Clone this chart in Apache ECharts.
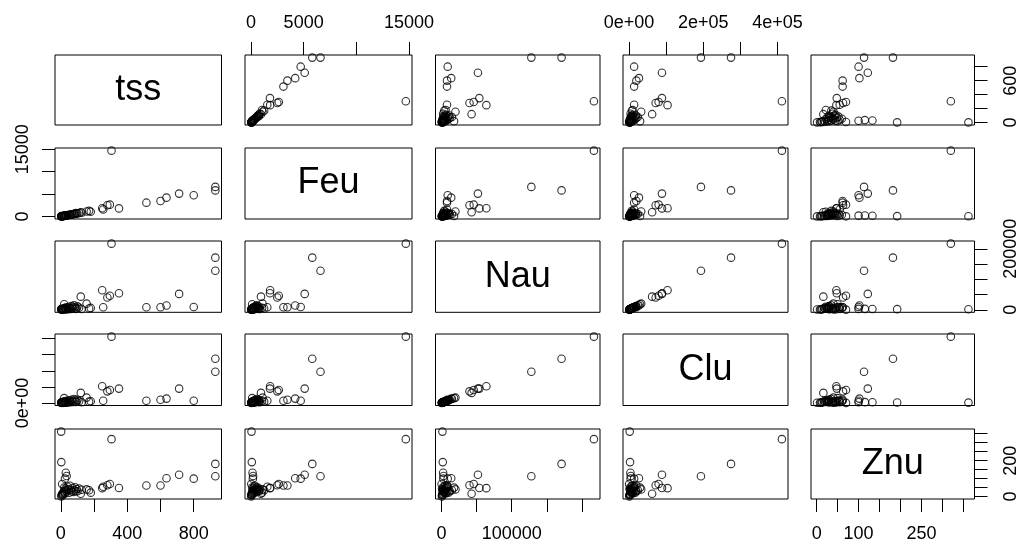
<!DOCTYPE html>
<html>
<head>
<meta charset="utf-8">
<script src="https://cdn.jsdelivr.net/npm/echarts@6/dist/echarts.min.js"></script>
<style>
html,body{margin:0;padding:0;background:#fff;}
#chart{width:1032px;height:547px;}
</style>
</head>
<body>
<div id="chart"></div>
<script>
// ---- data (one value per observation) ----
const varNames = ['tss', 'Feu', 'Nau', 'Clu', 'Znu'];
const tss = [305,930,930,800,712,636,600,515, 249,280,295,350,255,120,155,180,170,90, 2,3,30,35,25, 3,5,8,10,12,15,18,20,25,28, 30,35,40,45,50,55,60,65,70,75, 80,85,95,100,110,125, 8,20];
const Feu = [14700,6600,5820,4720,5100,4200,3460,3080, 1820,2500,2640,1800,1550,950,1100,1050,1250,750, 50,80,150,200,180, 20,40,60,70,90,100,130,150,170,200, 220,260,280,320,350,380,420,450,480,520, 560,600,640,700,760,820, 30,110];
const Nau = [217000,128000,171000,9000,52000,14000,8000,8000, 64000,40000,46000,54000,8000,43000,20000,6000,4000,3000, 1500,2000,2500,3000,2800, 800,1500,900,2500,3500,1200,5000,2000,6000,1000, 4000,8000,3000,1500,10000,5500,2500,12000,7000,3500, 15000,9000,4500,11000,6500,2500, 300,18000];
const Clu = [412000,194000,275000,14000,89000,27000,20000,14000, 104000,72000,80000,89000,14000,62500,33000,10000,8000,6000, 2000,3000,4000,5000,4500, 1200,2500,1500,4000,6000,2000,8000,3500,10000,1800, 7000,14000,5000,2600,17000,9000,4200,20000,12000,6000, 24000,15000,7500,19000,11000,4500, 500,30000];
const Znu = [320,113,182,100,122,102,62,62, 47,63,70,48,55,16,40,22,35,30, 362,192,133,115,100, 1,10,8,14,20,12,25,30,18,45, 35,28,55,40,22,60,38,30,48,26, 35,52,42,30,45,38, 70,50];

// tick marks and which of them carry labels
const tickTss = [0,200,400,600,800];
const tickFeu = [0,5000,10000,15000];
const tickNau = [0,50000,100000,150000,200000];
const tickClu = [0,100000,200000,300000,400000];
const tickZnu = [0,50,100,150,200,250,300,350];
const labOuterTss = [0,400,800];      // bottom
const labSideTss = [0,600];           // right
const labOuterFeu = [0,5000,15000];   // top
const labSideFeu = [0,15000];         // left
const labOuterNau = [0,100000];       // bottom
const labSideNau = [0,200000];        // right
const labOuterClu = [0,200000,400000];// top
const labSideClu = [0];               // left
const labOuterZnu = [0,100,250];      // bottom
const labSideZnu = [0,200];           // right

// ---- layout ----
const vars = [tss, Feu, Nau, Clu, Znu];
const ticks = [tickTss, tickFeu, tickNau, tickClu, tickZnu];
const labOuter = [labOuterTss, labOuterFeu, labOuterNau, labOuterClu, labOuterZnu];
const labSide = [labSideTss, labSideFeu, labSideNau, labSideClu, labSideZnu];
const colLeft = [55, 245, 435.5, 623, 811];
const colWidth = [166.5, 167, 164.5, 165, 163.5];
const rowTop = [55, 148, 241, 334, 429];
const rowHeight = [70, 71, 71.3, 71.5, 70];
const FONT = '"Liberation Sans", Arial, sans-serif';

function fmt(varIdx) {
  if (varIdx === 3) {
    return function (v) {
      if (v === 0) return '0e+00';
      const e = Math.floor(Math.log10(v));
      const m = v / Math.pow(10, e);
      return m + 'e+' + String(e).padStart(2, '0');
    };
  }
  return function (v) { return String(v); };
}

const ranges = vars.map(function (arr) {
  const mn = Math.min.apply(null, arr), mx = Math.max.apply(null, arr);
  const pad = 0.04 * (mx - mn);
  return [mn - pad, mx + pad];
});

const option = {
  animation: false,
  backgroundColor: '#fff',
  grid: [], xAxis: [], yAxis: [], series: [], graphic: []
};

for (let i = 0; i < 5; i++) {
  for (let j = 0; j < 5; j++) {
    const k = i * 5 + j;
    option.grid.push({
      left: colLeft[j], top: rowTop[i], width: colWidth[j], height: rowHeight[i],
      show: true, borderColor: '#000', borderWidth: 1, backgroundColor: 'transparent'
    });
    const xTop = (i === 0 && j % 2 === 1);
    const xBottom = (i === 4 && j % 2 === 0);
    const yLeft = (j === 0 && i % 2 === 1);
    const yRight = (j === 4 && i % 2 === 0);
    option.xAxis.push({
      gridIndex: k, type: 'value', min: ranges[j][0], max: ranges[j][1],
      position: xTop ? 'top' : 'bottom',
      show: xTop || xBottom,
      axisLine: { show: false, onZero: false }, splitLine: { show: false },
      axisTick: { show: true, inside: false, length: 13, customValues: ticks[j], lineStyle: { color: '#000', width: 1 } },
      axisLabel: {
        customValues: labOuter[j], formatter: fmt(j), margin: xTop ? 23 : 26,
        fontSize: 18, color: '#000', fontFamily: FONT
      }
    });
    option.yAxis.push({
      gridIndex: k, type: 'value', min: ranges[i][0], max: ranges[i][1],
      position: yRight ? 'right' : 'left',
      show: yLeft || yRight,
      axisLine: { show: false, onZero: false }, splitLine: { show: false },
      axisTick: { show: true, inside: false, length: 13, customValues: ticks[i], lineStyle: { color: '#000', width: 1 } },
      axisLabel: {
        customValues: labSide[i], formatter: fmt(i), margin: yRight ? 28 : 23, rotate: 90,
        fontSize: 18, color: '#000', fontFamily: FONT
      }
    });
    if (i === j) {
      option.graphic.push({
        type: 'text',
        x: colLeft[j] + colWidth[j] / 2,
        y: rowTop[i] + rowHeight[i] / 2,
        silent: true,
        style: {
          text: varNames[i], fill: '#000',
          font: '36px ' + FONT,
          textAlign: 'center', textVerticalAlign: 'middle'
        }
      });
    } else {
      const xs = vars[j], ys = vars[i];
      option.series.push({
        type: 'scatter', xAxisIndex: k, yAxisIndex: k,
        symbol: 'circle', symbolSize: 7.5, silent: true,
        itemStyle: { color: 'rgba(0,0,0,0)', borderColor: '#000', borderWidth: 1.1 },
        data: xs.map(function (v, n) { return [v, ys[n]]; })
      });
    }
  }
}

const chart = echarts.init(document.getElementById('chart'), null, { renderer: 'canvas' });
chart.setOption(option);
</script>
</body>
</html>
